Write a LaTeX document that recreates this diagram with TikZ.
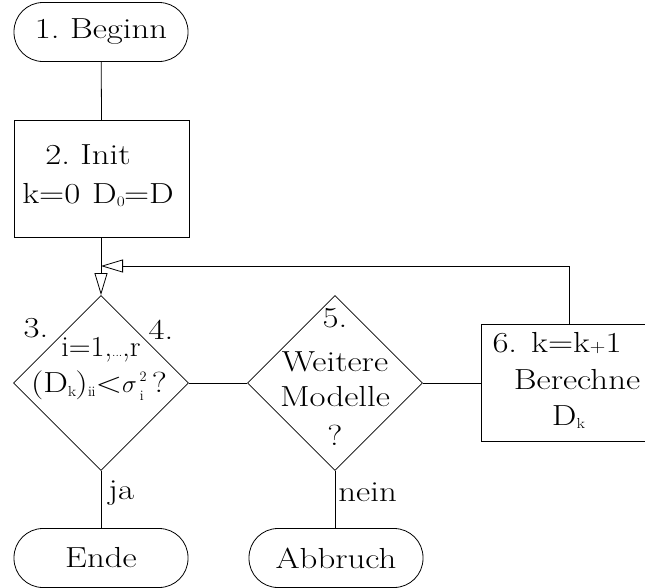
\documentclass[tikz,border=0pt]{standalone}
\usepackage{fontspec}
\setmainfont[FakeStretch=1.2]{Latin Modern Roman}
\usetikzlibrary{shapes.geometric,arrows.meta}
\newcommand{\subsm}[1]{_{\scriptscriptstyle\mathrm{#1}}}
\begin{document}
\begin{tikzpicture}[x=1pt,y=-1pt,
  line width=0.8pt,
  every node/.style={font=\fontsize{29}{33}\selectfont, inner sep=0pt},
  terminal/.style={draw, rectangle, rounded corners=29pt, minimum width=174pt, minimum height=59pt},
  procbox/.style={draw, rectangle, anchor=north west},
  decision/.style={draw, diamond, minimum width=175pt, minimum height=175pt, aspect=1},
  opentip/.style={-{Triangle[open, length=22pt, width=13pt]}}
]
\useasboundingbox (0,0) rectangle (645,587);

% start
\node[terminal] (start) at (101,32) {1.~Beginn};

% initialisation
\node[procbox, minimum width=175pt, minimum height=117pt] (init) at (14,120) {};
\node (initA) at (88,155) {2.~Init};
\node (initB) at (98,195) {k=0\hspace{12pt}D$\subsm{0}$=D};

% decision 3/4
\node[decision] (d3) at (101,383) {};
\node (l3) at (36,328) {3.};
\node (l4) at (161,330) {4.};
\node (d3a) at (101,350) {\scalebox{0.87}[1]{i=1,{\fontsize{12}{12}\selectfont ...},r}};
\node (d3b) at (99,386) {(D$\subsm{k}$)$\subsm{ii}$<$\sigma{}\mkern2mu
  _{\lower2pt\hbox{$\scriptscriptstyle\mathrm{i}$}}
  ^{\raise2pt\hbox{$\scriptscriptstyle 2$}}$\,?};

% decision 5
\node[decision] (d5) at (335,383) {};
\node (d5a) at (335,318) {5.};
\node (d5b) at (335,362) {Weitere};
\node (d5c) at (335,397) {Modelle};
\node (d5d) at (335,435) {?};

% step 6
\node[procbox, minimum width=175pt, minimum height=117pt] (upd) at (481,324) {};
\node (updA) at (557,343) {6.\hspace{14pt}k=k{\fontsize{18}{18}\selectfont +}1};
\node (updB) at (577,380) {Berechne};
\node (updC) at (568,417) {D$\subsm{k}$};

% end states
\node[terminal] (ende) at (101,558) {Ende};
\node[terminal] (abbr) at (336,558) {Abbruch};

% connectors
\coordinate (loopR) at (569,266);
\coordinate (loopL) at (101,266);
\draw (start) -- (init);
\draw[opentip] (init.south -| d3.north) -- (d3.north);
\draw[opentip] (upd.north -| loopR) -- (loopR) -- (loopL);
\draw (d3.east) -- (d5.west);
\draw (d5.east) -- (upd.west |- d5.east);
\draw (d3.south) -- node[right=7pt, pos=0.38] (ja) {ja} (ende.north);
\draw (d5.south) -- node[right=3pt, pos=0.38] (nein) {nein} (abbr.north -| d5.south);
\end{tikzpicture}
\end{document}
